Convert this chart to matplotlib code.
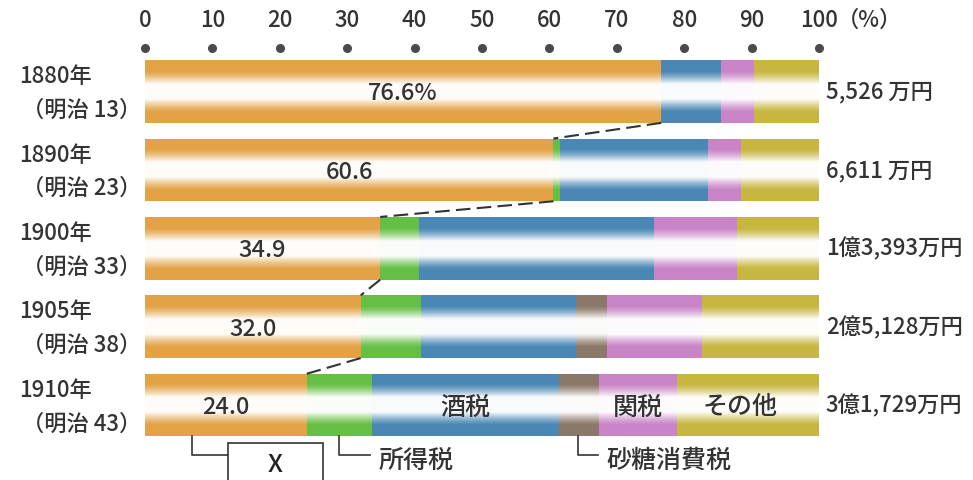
import numpy as np
import matplotlib
matplotlib.use("Agg")
import matplotlib.pyplot as plt

plt.rcParams['font.family'] = ['Noto Sans CJK JP', 'DejaVu Sans']
plt.rcParams['font.weight'] = 'medium'

years = ['1880年', '1890年', '1900年', '1905年', '1910年']
eras = ['（明治 13）', '（明治 23）', '（明治 33）', '（明治 38）', '（明治 43）']
totals = ['5,526 万円', '6,611 万円', '1億3,393万円', '2億5,128万円', '3億1,729万円']
x_labels = ['76.6%', '60.6', '34.9', '32.0', '24.0']

# shares in percent
land = [76.6, 60.6, 34.9, 32.0, 24.0]     # X
income = [0.0, 1.0, 5.7, 8.9, 9.7]       # 所得税
sake = [8.9, 21.9, 34.9, 23.0, 27.7]     # 酒税
sugar = [0.0, 0.0, 0.0, 4.7, 6.0]        # 砂糖消費税
customs = [4.8, 4.9, 12.3, 14.1, 11.5]   # 関税
other = [9.7, 11.6, 12.2, 17.3, 21.1]    # その他

series = [land, income, sake, sugar, customs, other]
colors = ['#E3A246', '#66BF45', '#4A87B4', '#8A7868', '#C884C6', '#C7B640']
ticks = [0, 10, 20, 30, 40, 50, 60, 70, 80, 90, 100]
txt = '#333333'

fig = plt.figure(figsize=(9.73, 4.8), dpi=100)
ax = fig.add_axes([145 / 973, 0, 674 / 973, 1])
ax.axis('off')

h = 0.8
ypos = np.arange(len(years))
left = np.zeros(len(years))
for vals, c in zip(series, colors):
    ax.barh(ypos, vals, left=left, height=h, color=c, edgecolor='none', zorder=1)
    left = left + np.array(vals)

# white glossy band in the middle of each bar
t = np.linspace(0, 1, 200)
d = np.abs(t - 0.5) / 0.5
alpha = np.clip((0.66 - d) / 0.42, 0, 1) ** 1.3
img = np.ones((200, 2, 4))
img[:, :, 3] = alpha[:, None] * 0.97
for y in ypos:
    ax.imshow(img, extent=(0, 100, y + h / 2, y - h / 2), aspect='auto',
              interpolation='bilinear', zorder=2)

# top scale: numbers and dots
for tk in ticks:
    ax.plot(tk, -0.555, 'o', color='#4a4a4a', ms=5.5, clip_on=False, zorder=3)
    ax.text(tk, -0.91, str(tk), ha='center', va='center', fontsize=16,
            color=txt, clip_on=False)
ax.text(102.6, -0.91, '（%）', ha='left', va='center', fontsize=16,
        color=txt, clip_on=False)

# row labels
for y, yr, era, tot in zip(ypos, years, eras, totals):
    ax.text(-18.7, y - 0.19, yr, ha='left', va='center', fontsize=16,
            color=txt, clip_on=False)
    ax.text(-18.2, y + 0.24, era, ha='left', va='center', fontsize=16,
            color=txt, clip_on=False)
    ax.text(101.0, y + 0.01, tot, ha='left', va='center', fontsize=16,
            color=txt, clip_on=False)

# land-tax value labels
for y, v, lab in zip(ypos, land, x_labels):
    ax.text(v / 2, y + 0.03, lab, ha='center', va='center', fontsize=17,
            color=txt, zorder=4)

# dashed connectors between X segments
for i in range(len(land) - 1):
    ax.plot([land[i], land[i + 1]], [ypos[i] + h / 2, ypos[i + 1] - h / 2],
            color=txt, lw=1.5, linestyle=(0, (7, 3)), zorder=5, clip_on=False)

# names inside the 1910 bar
last = len(years) - 1
s0 = land[last] + income[last]
s1 = s0 + sake[last]
s2 = s1 + sugar[last]
s3 = s2 + customs[last]
ax.text((s0 + s1) / 2, ypos[last] + 0.03, '酒税', ha='center', va='center',
        fontsize=18, color=txt, zorder=4)
ax.text((s2 + s3) / 2, ypos[last] + 0.03, '関税', ha='center', va='center',
        fontsize=18, color=txt, zorder=4)
ax.text((s3 + 100) / 2 - 1.2, ypos[last] + 0.03, 'その他', ha='center',
        va='center', fontsize=18, color=txt, zorder=4)

# callouts under the 1910 bar
yb = ypos[last] + h / 2
yl = 4.636
lk = dict(color=txt, lw=1.2, clip_on=False, zorder=3)
ax.plot([7.0, 7.0, 12.3], [yb, yl, yl], **lk)
ax.add_patch(plt.Rectangle((12.3, 4.48), 14.1, 0.6, facecolor='white',
                           edgecolor=txt, lw=1.2, clip_on=False, zorder=3))
ax.text(19.35, 4.76, 'X', ha='center', va='center', fontsize=18,
        color='#222222', clip_on=False, zorder=4)

xi = land[last] + income[last] / 2
ax.plot([xi, xi, xi + 4.5], [yb, yl, yl], **lk)
ax.text(xi + 5.8, yl + 0.07, '所得税', ha='left', va='center', fontsize=18,
        color=txt, clip_on=False)

xs = s1 + sugar[last] / 2 - 0.2
ax.plot([xs, xs, xs + 3.0], [yb, yl, yl], **lk)
ax.text(xs + 4.3, yl + 0.07, '砂糖消費税', ha='left', va='center', fontsize=18,
        color=txt, clip_on=False)

ax.set_xlim(0, 100)
ax.set_ylim(4.955, -1.167)

fig.savefig('out.png', dpi=100, facecolor='white')
